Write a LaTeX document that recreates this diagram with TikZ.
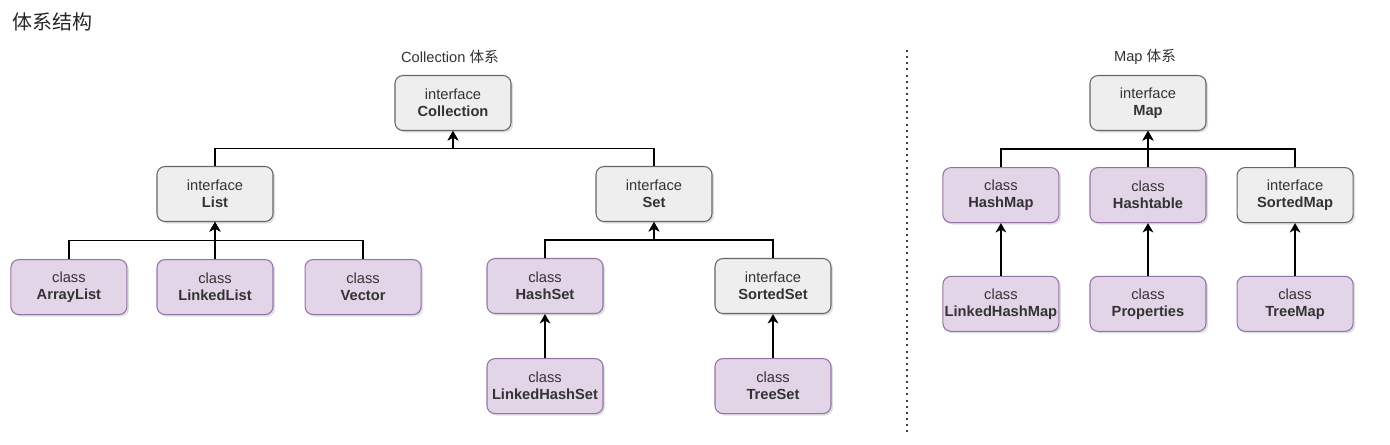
\documentclass[tikz,border=0pt]{standalone}
\usepackage{fontspec}
\setmainfont{Liberation Sans}
\newfontfamily\cjk{Noto Sans CJK SC}
\usepackage{xcolor}
\usepackage{tikz}
\usetikzlibrary{arrows.meta,positioning,shadows,calc}

\definecolor{ifacefill}{HTML}{EEEEEE}
\definecolor{ifaceline}{HTML}{666666}
\definecolor{clsfill}{HTML}{E1D5E7}
\definecolor{clsline}{HTML}{9673A6}
\definecolor{txt}{HTML}{333333}

\begin{document}
\begin{tikzpicture}[x=0.75pt,y=-0.75pt,font=\fontsize{11}{12.75}\selectfont]
\tikzset{box/.style={rectangle,rounded corners=6pt,draw,line width=0.8pt,text=txt,minimum width=87pt,minimum height=41.25pt,inner sep=1pt,align=center,drop shadow={shadow xshift=1.5pt,shadow yshift=-1.5pt,opacity=0.25}},
iface/.style={box,fill=ifacefill,draw=ifaceline},
cls/.style={box,fill=clsfill,draw=clsline},
conn/.style={-{Stealth[length=7pt,width=8pt,inset=2pt]},line width=1.4pt,black},
title/.style={text=txt,font=\fontsize{11}{13}\selectfont}}
\useasboundingbox (0,0) rectangle (1390,444);

\node[anchor=west,inner sep=0pt,text=black!85,font=\cjk\fontsize{15}{17}\selectfont] (head) at (12,22) {体系结构};

% Collection
\node[iface] (collection) at (453,103) {interface\\\textbf{Collection}};
\node[title] (ctitle) at (450,57) {Collection {\cjk 体系}};
\node[iface] (list) at (215,194) {interface\\\textbf{List}};
\node[iface] (set) at (654,194) {interface\\\textbf{Set}};

\node[cls,below=27.75pt of list] (linkedlist) {class\\\textbf{LinkedList}};
\node[cls,left=21.75pt of linkedlist] (arraylist) {class\\\textbf{ArrayList}};
\node[cls,right=23.25pt of linkedlist] (vector) {class\\\textbf{Vector}};

\node[cls] (hashset) at (545,286) {class\\\textbf{HashSet}};
\node[iface] (sortedset) at (773,286) {interface\\\textbf{SortedSet}};
\node[cls,below=33pt of hashset] (linkedhashset) {class\\\textbf{LinkedHashSet}};
\node[cls,below=33pt of sortedset] (treeset) {class\\\textbf{TreeSet}};

\coordinate (cbus) at ($(collection.south)!0.5!(list.north)$);
\coordinate (lbus) at ($(list.south)!0.5!(linkedlist.north)$);
\coordinate (sbus) at ($(set.south)!0.5!(hashset.north)$);

\draw[conn] (list.north) -- (list.north |- cbus) -| (collection.south);
\draw[conn] (set.north) -- (set.north |- cbus) -| (collection.south);
\draw[conn] (arraylist.north) -- (arraylist.north |- lbus) -| (list.south);
\draw[conn] (vector.north) -- (vector.north |- lbus) -| (list.south);
\draw[conn] (linkedlist) -- (list);
\draw[conn] (hashset.north) -- (hashset.north |- sbus) -| (set.south);
\draw[conn] (sortedset.north) -- (sortedset.north |- sbus) -| (set.south);
\draw[conn] (linkedhashset) -- (hashset);
\draw[conn] (treeset) -- (sortedset);

% separator
\coordinate (septop) at (907,50);
\coordinate (sepbot) at (907,432);
\draw[line width=1.5pt,black!75,dash pattern=on 1.5pt off 3.1pt] (septop) -- (sepbot);

% Map
\node[iface] (map) at (1148,103) {interface\\\textbf{Map}};
\node[title] (mtitle) at (1145,57) {Map {\cjk 体系}};
\node[cls,below=27pt of map] (hashtable) {class\\\textbf{Hashtable}};
\node[cls,left=22.5pt of hashtable] (hashmap) {class\\\textbf{HashMap}};
\node[iface,right=22.5pt of hashtable] (sortedmap) {interface\\\textbf{SortedMap}};
\node[cls,below=39.5pt of hashmap] (linkedhashmap) {class\\\textbf{LinkedHashMap}};
\node[cls,below=39.5pt of hashtable] (properties) {class\\\textbf{Properties}};
\node[cls,below=39.5pt of sortedmap] (treemap) {class\\\textbf{TreeMap}};

\coordinate (mbus) at ($(map.south)!0.5!(hashtable.north)$);
\draw[conn] (hashmap.north) -- (hashmap.north |- mbus) -| (map.south);
\draw[conn] (sortedmap.north) -- (sortedmap.north |- mbus) -| (map.south);
\draw[conn] (hashtable) -- (map);
\draw[conn] (linkedhashmap) -- (hashmap);
\draw[conn] (properties) -- (hashtable);
\draw[conn] (treemap) -- (sortedmap);
\end{tikzpicture}
\end{document}
